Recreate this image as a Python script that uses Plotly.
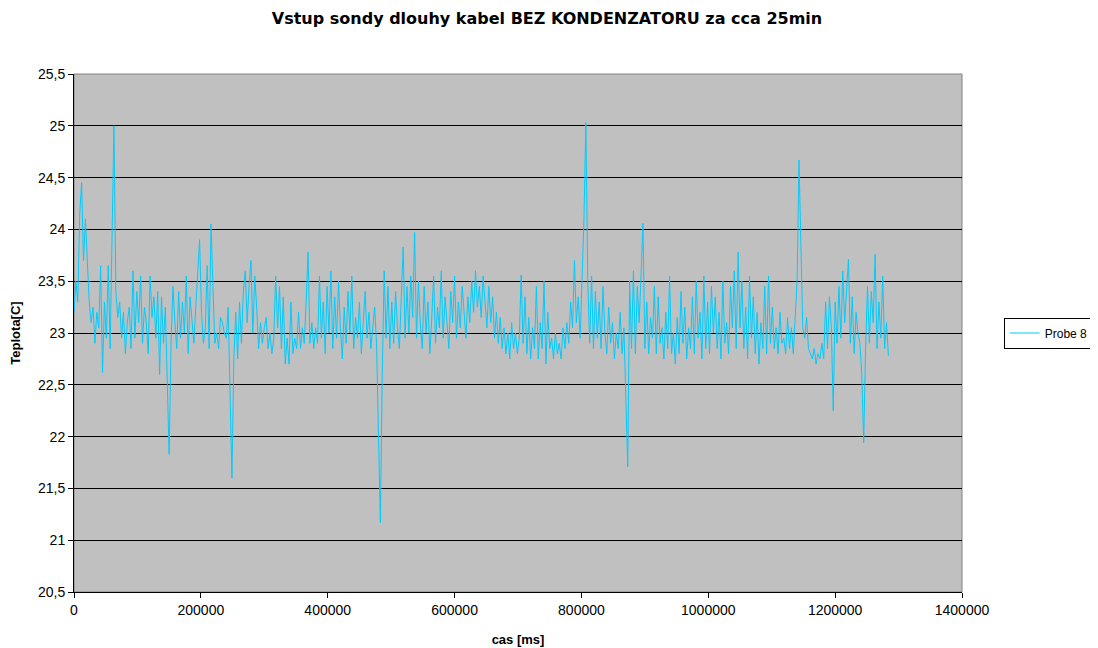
import plotly.graph_objects as go

TITLE = "Vstup sondy dlouhy kabel BEZ KONDENZATORU za cca 25min"
SERIES_NAME = "Probe 8"
X_TITLE = "cas [ms]"
Y_TITLE = "Teplota[C]"
SAMPLE_MS = 3000

seg1 = [23.20, 23.50, 23.30, 24.15, 24.45, 23.70, 24.10, 23.65, 23.30, 23.10,
        23.25, 22.90, 23.20, 23.05, 23.65, 22.62, 23.30, 22.95, 23.65, 22.85,
        24.05, 25.00, 23.40, 23.15, 23.30, 22.95, 23.20, 22.80, 23.10, 23.25,
        22.85, 23.60, 22.95, 23.40, 23.10, 23.55, 22.90, 23.25, 23.10, 22.80,
        23.55, 23.15, 23.35, 22.95, 23.40, 22.60, 23.35, 22.90, 23.25, 22.45,
        21.83, 22.90, 23.45, 23.10, 22.85, 23.40, 22.95, 23.30, 23.00, 23.55,
        22.80, 23.35, 23.10, 22.90, 23.25, 23.60]
seg2 = [23.90, 23.20, 22.90, 23.05, 23.65, 22.85, 24.05, 23.45, 22.90, 23.00,
        22.85, 23.15, 23.10, 23.00, 22.95, 23.25, 22.25, 21.60, 22.75, 23.20,
        22.75, 23.30, 22.90, 23.40, 23.60, 23.10, 23.45, 23.70, 23.00, 23.55,
        23.25, 22.85, 23.10, 22.90, 23.05, 23.15, 22.85, 23.00, 22.80, 22.95,
        23.55, 23.05, 23.45, 22.85, 23.35, 22.70, 22.95, 22.70, 23.30, 22.80,
        22.95, 22.85, 23.20, 22.85, 23.05, 22.90, 23.30, 23.78, 22.90, 23.10,
        22.85, 23.05, 22.90, 23.55, 22.95, 23.30]
seg3 = [22.80, 23.45, 23.00, 23.60, 22.85, 23.35, 22.95, 23.50, 23.05, 22.75,
        23.25, 22.90, 23.40, 23.00, 23.55, 22.85, 23.15, 22.95, 23.30, 22.80,
        23.10, 23.40, 22.95, 23.20, 22.85, 23.05, 23.25, 22.90, 22.10, 21.17,
        22.60, 23.60, 22.95, 23.45, 22.85, 23.30, 22.90, 23.40, 23.05, 22.85,
        23.35, 23.83, 22.95, 23.45, 23.00, 23.55, 23.15, 23.97, 22.95, 23.50,
        23.10, 22.85, 23.45, 23.00, 23.30, 22.80, 23.15, 23.55, 22.90, 23.25,
        23.05, 23.60, 22.95, 23.35, 23.10, 22.85]
seg4 = [23.40, 23.10, 23.55, 22.95, 23.30, 23.05, 23.45, 23.20, 22.95, 23.35,
        23.10, 23.50, 23.20, 23.60, 23.25, 23.45, 23.15, 23.55, 23.30, 23.05,
        23.45, 23.10, 23.35, 22.95, 23.20, 22.90, 23.15, 22.85, 23.05, 22.80,
        23.00, 22.75, 23.10, 22.85, 23.00, 22.80, 22.95, 23.56, 22.90, 23.35,
        22.80, 23.15, 22.75, 23.05, 22.85, 23.45, 22.75, 23.10, 22.85, 23.50,
        22.70, 23.20, 22.85, 22.95, 22.75, 23.00, 22.80, 22.90, 22.75, 23.05,
        22.85, 23.10, 22.90, 23.30, 23.05, 23.70]
seg5 = [23.10, 23.35, 22.95, 23.60, 24.10, 25.03, 23.50, 22.90, 23.55, 22.85,
        23.40, 22.95, 23.30, 22.85, 23.45, 23.00, 22.80, 23.25, 22.90, 23.10,
        22.75, 23.00, 22.85, 23.20, 22.80, 23.05, 22.40, 21.71, 23.50, 22.85,
        23.60, 22.80, 23.45, 23.10, 23.55, 24.06, 22.85, 23.30, 22.80, 23.15,
        22.95, 23.45, 22.80, 23.35, 22.90, 23.05, 22.75, 23.20, 22.85, 23.55,
        22.80, 23.00, 22.70, 23.15, 22.80, 23.40, 22.90, 23.25, 22.75, 23.05,
        22.85, 23.35, 22.80, 23.50, 22.95, 23.20]
seg6 = [22.75, 23.55, 22.85, 23.30, 22.80, 23.45, 23.00, 23.35, 22.85, 23.20,
        22.75, 23.50, 22.90, 23.10, 22.80, 23.45, 23.05, 23.60, 22.85, 23.78,
        23.05, 23.50, 22.85, 23.25, 22.75, 23.55, 22.95, 23.35, 22.80, 23.20,
        22.70, 23.10, 22.85, 23.45, 22.80, 23.55, 22.90, 23.25, 22.85, 23.05,
        22.80, 23.20, 22.90, 22.95, 22.80, 23.15, 22.85, 23.05, 22.80, 23.10,
        23.50, 24.67, 23.70, 23.05, 22.95, 23.15, 22.85, 22.80, 22.75, 22.85,
        22.70, 22.80, 22.75, 22.90, 22.75, 23.30]
seg7 = [22.85, 23.35, 23.05, 22.25, 23.30, 22.90, 23.45, 22.95, 23.60, 23.10,
        23.40, 23.71, 22.90, 23.35, 22.80, 23.20, 23.00, 22.90, 22.60, 21.94,
        22.85, 23.45, 22.90, 23.40, 23.10, 23.76, 22.85, 23.30, 22.95, 23.55,
        22.85, 23.10, 22.78]

temps = seg1 + seg2 + seg3 + seg4 + seg5 + seg6 + seg7
times = [i * SAMPLE_MS for i in range(len(temps))]

FONT = "Liberation Sans, Arial, sans-serif"
TITLE_FONT = "DejaVu Sans, Liberation Sans, sans-serif"

fig = go.Figure()
fig.add_trace(go.Scatter(
    x=times, y=temps, mode="lines", name=SERIES_NAME,
    line=dict(color="#00CCFF", width=1), showlegend=True,
))

# page body has an 8px margin, so the figure is drawn 8px smaller and the
# margins are reduced by 8px to land the plot area where the reference has it
fig.update_layout(
    width=1090, height=640,
    margin=dict(l=66, r=136, t=66, b=56, autoexpand=False),
    paper_bgcolor="white",
    plot_bgcolor="#C0C0C0",
    separators=",",
    font=dict(family=FONT, size=14, color="black"),
    title=dict(text="<b>" + TITLE + "</b>", x=0.4945, xanchor="center", xref="container",
               y=0.983, yanchor="middle", font=dict(size=16, family=TITLE_FONT)),
    showlegend=True,
    legend=dict(x=1.047, xanchor="left", y=0.5, yanchor="middle",
                bordercolor="black", borderwidth=1, bgcolor="white",
                font=dict(size=12, family=FONT), itemwidth=30,
                tracegroupgap=0),
    xaxis=dict(range=[0, 1400000], dtick=200000, tick0=0,
               tickformat="d", exponentformat="none", separatethousands=False,
               showgrid=False, zeroline=False, automargin=False,
               showline=True, linecolor="black", linewidth=1,
               ticks="outside", ticklen=5, tickcolor="black",
               tickfont=dict(size=14),
               title=dict(text="<b>" + X_TITLE + "</b>", font=dict(size=13), standoff=18)),
    yaxis=dict(range=[20.5, 25.5], dtick=0.5, tick0=20.5,
               showgrid=True, gridcolor="black", gridwidth=1, zeroline=False,
               automargin=False,
               showline=True, linecolor="black", linewidth=1,
               ticks="outside", ticklen=5, tickcolor="black",
               tickfont=dict(size=14),
               title=dict(text="<b>" + Y_TITLE + "</b>", font=dict(size=13), standoff=14)),
    shapes=[dict(type="rect", xref="paper", yref="paper", x0=0, x1=1, y0=0, y1=1,
                 line=dict(color="#808080", width=1), layer="below")],
)

fig.write_html("out.html")
